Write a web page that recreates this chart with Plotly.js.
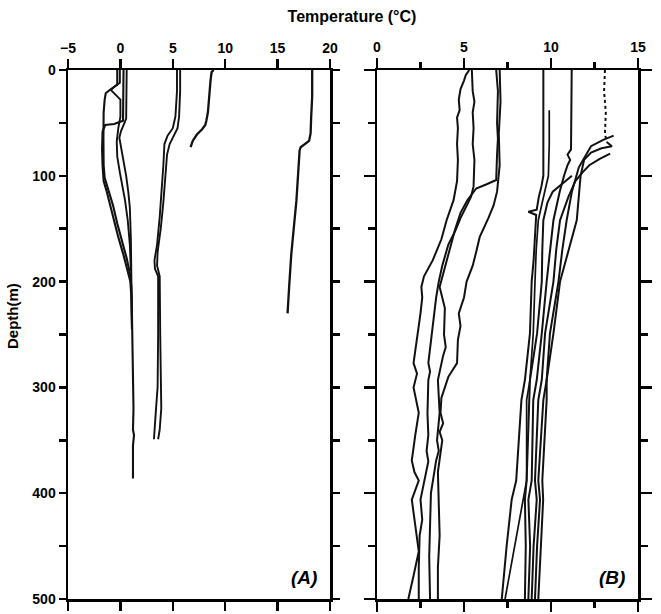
<!DOCTYPE html>
<html>
<head>
<meta charset="utf-8">
<script src="https://cdn.plot.ly/plotly-3.0.1.min.js"></script>
<style>html,body{margin:0;padding:0;background:#fff;}#chart{width:661px;height:614px;}</style>
</head>
<body>
<div id="chart"></div>
<script>
// ---------- Panel A profiles (temperature °C, depth m) ----------
const a1T = [18.3,18.3,18.2,18.15,18.0,17.6,17.2,17.1,16.95,16.8,16.5,16.3,16.1,15.95];
const a1D = [0,25,45,60,67,70,73,76,100,123,154,175,205,230];
const a2T = [8.9,8.7,8.6,8.5,8.35,8.2,8.1,7.8,7.3,6.9,6.7];
const a2D = [0,2,10,25,40,48,52,56,61,67,73];
const a3T = [5.4,5.4,5.25,5.0,4.5,4.2,4.1,4.0,3.75,3.5,3.25,3.3,3.6,3.6,3.55,3.4,3.3,3.2];
const a3D = [0,20,44,55,62,70,90,107,139,165,180,188,195,250,300,320,340,349];
const a4T = [5.7,5.7,5.6,5.45,5.1,4.7,4.45,4.3,4.1,3.85,3.55,3.5,3.75,3.8,3.85,3.9,3.75,3.6];
const a4D = [0,20,44,55,62,70,80,100,125,150,172,185,195,250,300,320,340,349];
const ac1T = [-0.3,-0.3,-0.9,-1.4,-1.5,-1.6,-1.62,-1.6,-1.5,-1.2,-0.7,-0.3,0.2,0.6,0.9,1.05,1.1,1.2,1.25,1.2,1.3,1.2,1.2];
const ac1D = [0,14,18,22,28,40,65,90,102,112,128,145,162,178,192,205,230,280,320,340,345,355,386];
const ac2T = [0.3,0.3,0.25,-0.6,-1.45,-1.7,-1.75,-1.7,-1.6,-1.3,-1.05,-0.7,-0.2,0.3,0.7,0.95,1.05,1.1];
const ac2D = [0,20,48,51,52,58,75,90,105,115,125,140,158,175,190,200,215,245];
const ac3T = [0.6,0.6,0.55,0.3,0.05,-0.1,0.1,0.3,0.55,0.75,0.9,1.0,1.05,1.1];
const ac3D = [0,25,46,52,58,64,75,88,100,115,130,160,200,240];
const ac4T = [-0.05,-0.05,-0.5,-0.9,-0.4,0.0,0.0,-0.2,-0.35,-0.3,-0.05,0.25,0.44,0.7,0.9,1.0];
const ac4D = [0,12,15,19,24,28,44,55,68,82,97,112,123,142,165,190];

// ---------- Panel B profiles ----------
const bc1T = [5.3,5.1,5.0,4.8,4.7,4.75,4.6,4.65,4.6,4.65,4.6,4.4,4.0,3.7,3.2,2.7,2.55,2.6,2.5,2.3,2.1,2.3,2.1,2.25,2.4,2.2,2.0,2.15,2.4,2.0,2.2,2.4,2.1,1.8];
const bc1D = [0,5,10,18,28,38,45,55,70,85,105,123,142,160,180,195,205,215,230,255,277,287,300,312,324,345,369,380,388,406,430,455,478,500];
const bc2T = [5.45,5.5,5.6,5.5,5.55,5.5,5.6,5.55,5.4,5.1,4.8,4.5,4.1,3.75,3.55,3.4,3.3,3.1,2.95,3.05,2.95,2.9,2.95,2.85,2.95,2.7,2.5,2.6,2.45,2.4,2.4];
const bc2D = [0,20,30,40,55,70,85,110,120,130,140,152,165,185,200,215,230,255,277,285,293,325,345,360,370,390,406,425,440,470,500];
const bc3T = [6.85,6.95,6.9,6.95,6.9,6.85,6.3,5.7,5.2,4.8,4.5,4.1,3.75,3.6,3.9,3.85,3.95,3.8,3.5,3.6,3.45,3.55,3.4,3.1,3.05,3.0,3.05];
const bc3D = [0,20,50,65,80,104,108,112,123,135,150,175,195,205,225,250,262,270,293,324,350,360,369,400,430,460,500];
const bc4T = [7.05,7.1,7.0,7.05,6.9,6.7,6.4,5.9,5.7,5.5,5.15,5.0,4.7,4.8,4.65,4.6,4.1,3.7,3.65,3.8,3.6,3.75,3.5,3.55,3.6,3.5,3.5];
const bc4D = [0,30,60,90,115,128,140,158,172,185,200,215,230,242,255,277,290,310,324,334,342,350,380,406,440,470,500];
const bw1T = [9.56,9.56,9.56,9.45,9.3,9.18,8.7,9.15,9.08,9.0,8.89,8.79,8.5,8.3,8.0,7.74,7.45,7.17];
const bw1D = [0,50,100,110,120,132,134,137,161,180,200,249,293,312,388,406,450,500];
const bw1bT = [9.9,9.9,9.85,9.7,9.5,9.27,9.15,9.08,8.98,8.79,8.6,8.6,8.4,7.9,7.36];
const bw1bD = [38,70,100,112,125,142,170,200,249,293,312,388,406,450,500];
const bw2T = [11.19,11.19,11.15,10.95,11.1,10.95,10.75,10.5,10.14,9.95,9.75,9.47,9.18,8.98,8.89,8.7,8.8,8.7];
const bw2D = [0,40,75,80,85,90,100,115,142,170,200,249,293,312,388,406,450,500];
const bw3topT = [13.1,13.05,13.15,13.1,13.2];
const bw3topD = [0,20,40,60,68];
const bw3T = [13.2,13.5,12.9,12.3,11.9,11.7,11.48,11.0,10.52,10.14,9.75,9.75,9.5,9.55,9.4,9.27];
const bw3D = [68,72,74,78,85,100,142,170,200,249,293,312,388,406,450,500];
const bw4T = [13.6,13.0,12.3,12.0,11.6,11.2,10.9,10.65,10.43,9.94,9.75,9.56,9.27,9.37,9.2,9.08];
const bw4D = [62,66,72,80,92,115,142,170,200,249,293,312,388,406,450,500];
const bw5T = [13.4,12.8,12.2,11.85,11.4,11.0,10.52,10.3,10.14,9.66,9.47,9.27,9.08,9.18,9.0,8.89];
const bw5D = [79,84,90,96,105,120,142,170,200,249,293,312,388,406,450,500];
const bw6T = [11.2,10.6,10.1,9.8,9.56,9.5,9.47,9.2,8.79,8.75,8.6,8.5,8.55,8.5];
const bw6D = [100,108,115,125,142,170,200,249,293,312,388,406,450,500];

// ---------- Axis ticks ----------
const depthTicks = [0,50,100,150,200,250,300,350,400,450,500];
const depthText = ['0','','100','','200','','300','','400','','500'];
const tempTicksA = [-5,0,5,10,15,20];
const tempTicksB = [0,5,10,15];
const tempMinorB = [2.5,7.5,12.5];
const depthMajorB = [0,100,200,300,400,500];

function prof(T, D, panel, width, dash) {
  return {
    x: T, y: D, type: 'scatter', mode: 'lines',
    xaxis: panel === 'B' ? 'x2' : 'x', yaxis: panel === 'B' ? 'y2' : 'y',
    line: {color: '#111', width: width || 2, dash: dash || 'solid'},
    hoverinfo: 'skip'
  };
}

const data = [
  prof(a1T,a1D,'A',2.3), prof(a2T,a2D,'A',2.3), prof(a3T,a3D,'A',1.9), prof(a4T,a4D,'A',1.9),
  prof(ac1T,ac1D,'A',2.1), prof(ac2T,ac2D,'A',2.1), prof(ac3T,ac3D,'A',1.9), prof(ac4T,ac4D,'A',1.9),
  prof(bc1T,bc1D,'B',2), prof(bc2T,bc2D,'B',2), prof(bc3T,bc3D,'B',2), prof(bc4T,bc4D,'B',2),
  prof(bw1T,bw1D,'B',2), prof(bw1bT,bw1bD,'B',1.7), prof(bw2T,bw2D,'B',2),
  prof(bw3topT,bw3topD,'B',2,'dot'), prof(bw3T,bw3D,'B',2),
  prof(bw4T,bw4D,'B',2), prof(bw5T,bw5D,'B',2), prof(bw6T,bw6D,'B',2)
];

const FAM = 'Liberation Sans, Arial, sans-serif';
const tickFont = {family: FAM, size: 14, color: '#000', weight: 'bold'};
const axCommon = {
  showline: true, linecolor: '#000', linewidth: 2.5, ticks: 'outside', tickcolor: '#000',
  tickwidth: 2.5, mirror: 'ticks', showgrid: false, zeroline: false, tickfont: tickFont,
  fixedrange: true
};

const layout = {
  width: 661, height: 614,
  margin: {l: 68, r: 23, t: 70, b: 15},
  paper_bgcolor: '#fff', plot_bgcolor: '#fff',
  showlegend: false,
  title: {
    text: 'Temperature (°C)', x: 352/661, xanchor: 'center', xref: 'container',
    y: 1 - 16/614, yanchor: 'middle', yref: 'container',
    font: {family: FAM, size: 16, color: '#000', weight: 'bold'}
  },
  xaxis: Object.assign({}, axCommon, {
    domain: [0, 262/570], range: [-5, 20], side: 'top', anchor: 'y',
    tickmode: 'array', tickvals: tempTicksA, ticklen: 9
  }),
  yaxis: Object.assign({}, axCommon, {
    domain: [0, 1], range: [500, 0], anchor: 'x',
    tickmode: 'array', tickvals: depthTicks, ticktext: depthText, ticklen: 7
  }),
  xaxis2: Object.assign({}, axCommon, {
    domain: [309/570, 1], range: [0, 15], side: 'top', anchor: 'y2',
    tickmode: 'array', tickvals: tempTicksB, ticklen: 10,
    minor: {tickmode: 'array', tickvals: tempMinorB, ticks: 'outside', ticklen: 6, tickwidth: 2.5, tickcolor: '#000'}
  }),
  yaxis2: Object.assign({}, axCommon, {
    domain: [0, 1], range: [500, 0], anchor: 'x2', showticklabels: false,
    tickmode: 'array', tickvals: depthMajorB, ticklen: 11,
    minor: {dtick: 50, ticks: 'outside', ticklen: 7, tickwidth: 2.5, tickcolor: '#000'}
  }),
  annotations: [
    {text: 'Depth(m)', xref: 'paper', yref: 'paper', x: (12-68)/570, y: 1-(316-70)/529,
     textangle: -90, showarrow: false, xanchor: 'center', yanchor: 'middle',
     font: {family: FAM, size: 15, color: '#000', weight: 'bold'}},
    {text: '<i>(A)</i>', xref: 'paper', yref: 'paper', x: (304-68)/570, y: 1-(577-70)/529,
     showarrow: false, xanchor: 'center', yanchor: 'middle',
     font: {family: FAM, size: 19, color: '#000', weight: 'bold'}},
    {text: '<i>(B)</i>', xref: 'paper', yref: 'paper', x: (612-68)/570, y: 1-(577-70)/529,
     showarrow: false, xanchor: 'center', yanchor: 'middle',
     font: {family: FAM, size: 19, color: '#000', weight: 'bold'}}
  ]
};

Plotly.newPlot('chart', data, layout, {displayModeBar: false, staticPlot: true});
</script>
</body>
</html>
